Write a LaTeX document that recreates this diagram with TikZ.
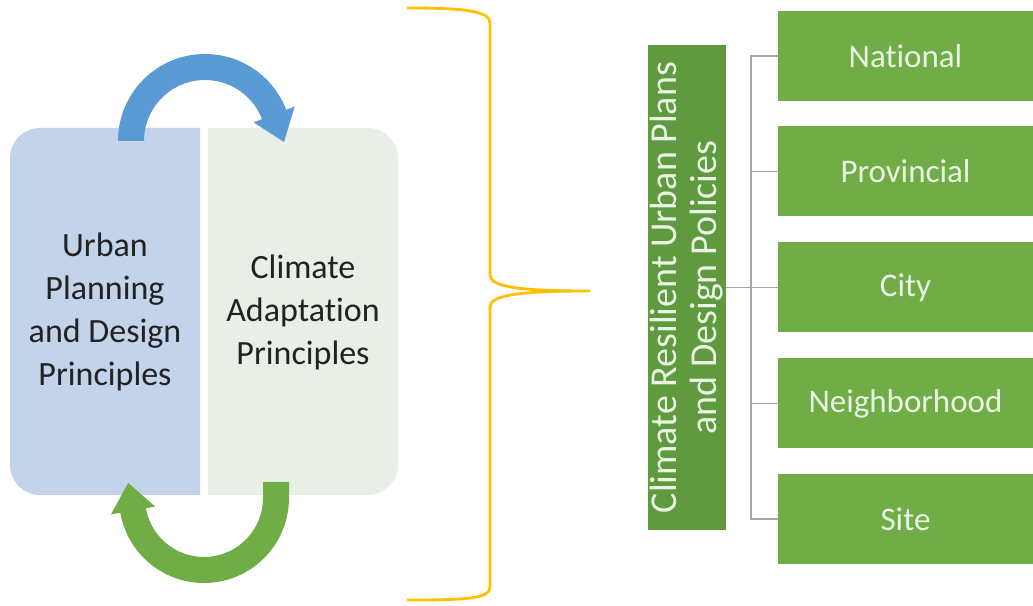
\documentclass[tikz,border=0pt]{standalone}
\usepackage{fontspec}
\setmainfont{Carlito}[RawFeature={-liga;-clig;-calt;-dlig}]
\definecolor{lblue}{HTML}{C3D3EA}
\definecolor{lgray}{HTML}{E9EEE7}
\definecolor{arrblue}{HTML}{5B9BD5}
\definecolor{arrgreen}{HTML}{70AD47}
\definecolor{bracecol}{HTML}{FFC000}
\definecolor{boxgreen}{HTML}{70AD47}
\definecolor{darkgreen}{HTML}{5F9B3E}
\definecolor{lighttext}{HTML}{EAF4E4}
\definecolor{conncol}{HTML}{A6A6A6}
\definecolor{textdark}{HTML}{222222}
\begin{document}
\begin{tikzpicture}[x=1pt,y=1pt,
  levelbox/.style={fill=boxgreen, minimum width=255pt, minimum height=90pt, inner sep=0pt, text=lighttext, font=\fontsize{33}{40}\selectfont},
  connline/.style={draw=conncol, line width=1.5pt},
  principle/.style={align=center, text=textdark, font=\fontsize{34}{43}\selectfont}]
\useasboundingbox (0,0) rectangle (1033,605);
% two-part rounded box
\begin{scope}
\clip (0,0) rectangle (200,605);
\fill[lblue, rounded corners=30pt] (10,110) rectangle (398,477);
\end{scope}
\begin{scope}
\clip (208,0) rectangle (1033,605);
\fill[lgray, rounded corners=30pt] (10,110) rectangle (398,477);
\end{scope}
\node[principle] (upd) at (105,293) {Urban\\Planning\\and Design\\Principles};
\node[principle] (cap) at (303,293) {Climate\\Adaptation\\Principles};
% blue circular arrow
\begin{scope}[shift={(205,464)}]
\fill[arrblue] (180:61pt) -- (180:87pt) arc[start angle=180,end angle=21,radius=87pt]
  -- (21:96pt) -- (79pt,-1pt) -- (21:52pt) -- (21:61pt)
  arc[start angle=21,end angle=180,radius=61pt] -- cycle;
\end{scope}
% green circular arrow
\begin{scope}[shift={(204,107)}]
\fill[arrgreen] (59pt,16pt) -- (85pt,16pt) -- (85pt,0pt) arc[start angle=0,end angle=-170,radius=85pt]
  -- (-170:94.5pt) -- (-75.8pt,15.1pt) -- (-170:49.5pt) -- (-170:59pt)
  arc[start angle=-170,end angle=0,radius=59pt] -- cycle;
\end{scope}
% brace
\draw[bracecol, line width=2.8pt] (407,597) .. controls (465,597) and (490,594) .. (490,582)
  -- (490,330) .. controls (490,318) and (520,314) .. (590,314)
  .. controls (520,314) and (490,310) .. (490,298)
  -- (490,18) .. controls (490,6) and (465,5) .. (407,5);
% right side
\node[fill=darkgreen, rotate=90, minimum width=485pt, minimum height=78pt, inner sep=0pt,
  text=lighttext, align=center, font=\fontsize{38}{40}\selectfont] (policy) at (687,317.5)
  {Climate Resilient Urban Plans\\and Design Policies};
\node[levelbox] (national) at (905.5,549) {National};
\node[levelbox] (provincial) at (905.5,433.5) {Provincial};
\node[levelbox] (city) at (905.5,317.5) {City};
\node[levelbox] (neighborhood) at (905.5,201.5) {Neighborhood};
\node[levelbox] (site) at (905.5,86) {Site};
\draw[connline] (policy.south) -- (city.west);
\draw[connline] (national.west) -- ++(-27,0) |- (site.west);
\draw[connline] (provincial.west) -- ++(-27,0);
\draw[connline] (neighborhood.west) -- ++(-27,0);
\end{tikzpicture}
\end{document}
